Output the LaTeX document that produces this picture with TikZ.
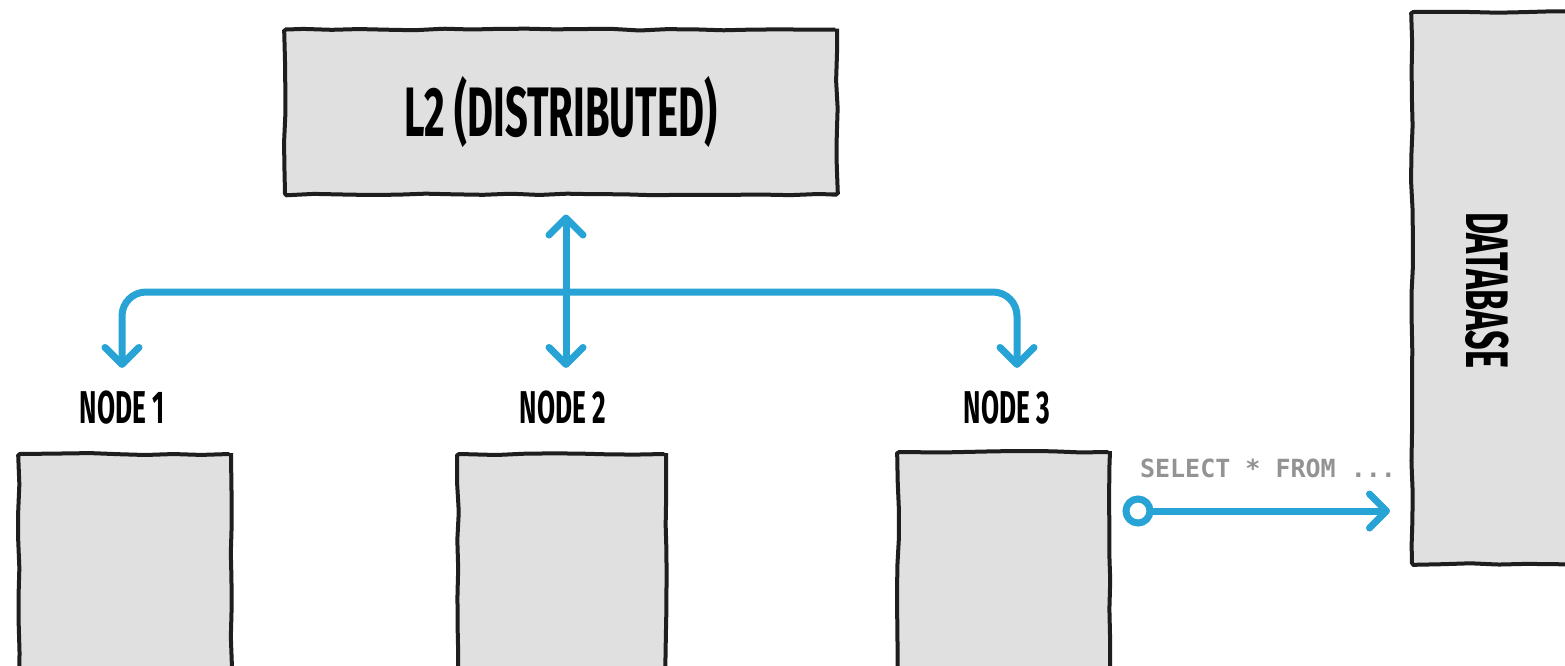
\documentclass[tikz,border=0pt]{standalone}
\usepackage{fontspec}
\usetikzlibrary{arrows.meta,calc,decorations.pathmorphing}
\newfontfamily\handfont[FakeStretch=0.57]{Fira Sans}
\newfontfamily\codefont{DejaVu Sans Mono}
\definecolor{flowblue}{HTML}{27A4D5}
\definecolor{boxfill}{HTML}{E0E0E0}
\definecolor{boxline}{HTML}{1E1E1E}
\definecolor{codegray}{HTML}{939393}
\tikzset{
  sketchbox/.style={draw=boxline, fill=boxfill, line width=2pt, inner sep=0pt,
    decorate, decoration={random steps, segment length=14pt, amplitude=0.5pt},
    rounded corners=0.8pt},
  nodelabel/.style={font=\handfont\bfseries\fontsize{23}{23}\selectfont, inner sep=0pt, anchor=base},
  flow/.style={draw=flowblue, line width=3.5pt, line cap=round, line join=round,
    arrows={Straight Barb[length=8.5pt,width=17pt,round]-Straight Barb[length=8.5pt,width=17pt,round]}},
  oneway/.style={draw=flowblue, line width=3.5pt, line cap=round,
    -{Straight Barb[length=8.5pt,width=17pt,round]}},
}
\begin{document}
\begin{tikzpicture}[x=0.5pt, y=-0.5pt]
  \clip (0,0) rectangle (1565,665);
  \fill[white] (0,0) rectangle (1565,665);

  % distributed cache on top
  \node[sketchbox, minimum width=276pt, minimum height=82.5pt] (l2) at (561,112)
    {\handfont\bfseries\fontsize{35}{35}\selectfont L2 (DISTRIBUTED)};

  % application nodes, running off the lower edge
  \node[sketchbox, minimum width=106pt, minimum height=120pt, anchor=north west] (n1) at (17,452) {};
  \node[sketchbox, minimum width=104pt, minimum height=120pt, anchor=north west] (n2) at (456,452) {};
  \node[sketchbox, minimum width=106pt, minimum height=121pt, anchor=north west] (n3) at (896,450) {};

  \node[nodelabel] (n1lab) at (122,423) {NODE 1};
  \node[nodelabel] (n2lab) at (563,423) {NODE 2};
  \node[nodelabel] (n3lab) at (1007,423) {NODE 3};

  % database on the right edge
  \node[sketchbox, minimum width=100pt, minimum height=276pt, anchor=north west] (db) at (1410,10) {};
  \node[font=\handfont\bfseries\fontsize{30}{30}\selectfont, rotate=-90, inner sep=0pt] (dblab) at (1487,290) {DATABASE};

  % cache bus
  \coordinate (bus) at (566,292);
  \draw[flow, rounded corners=12pt] ($(n1lab.north)+(0,-22)$) |- (bus) -| ($(n3lab.north)+(10,-22)$);
  \draw[flow] ($(l2.south)+(5,18)$) -- ($(n2lab.north)+(3,-22)$);

  % query from node 3 to the database
  \node[circle, draw=flowblue, line width=3.5pt, minimum size=12pt, inner sep=0pt] (dot) at (1138,511) {};
  \coordinate (sqlend) at ($(db.west |- dot)+(-20,0)$);
  \draw[oneway] (dot.east) -- (sqlend);
  \node[font=\codefont\bfseries\fontsize{12.5}{12.5}\selectfont, text=codegray, inner sep=0pt] (sqllab) at (1268,468) {SELECT * FROM ...};
\end{tikzpicture}
\end{document}
